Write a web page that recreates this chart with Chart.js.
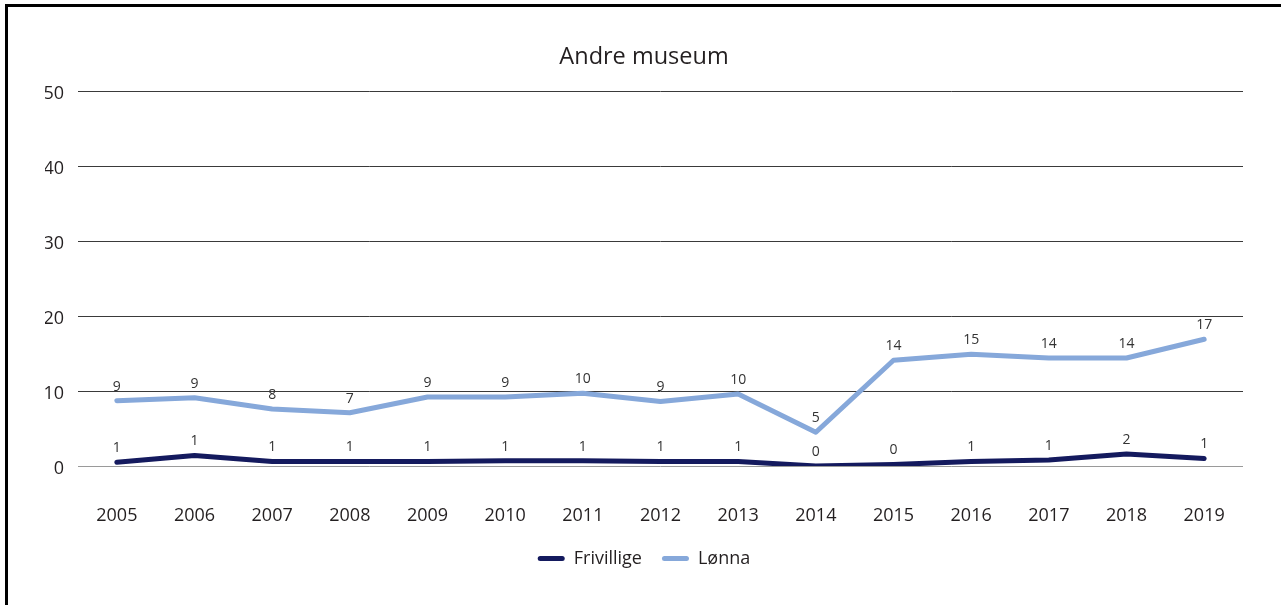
<!DOCTYPE html>
<html>
<head>
<meta charset="utf-8">
<script src="https://cdn.jsdelivr.net/npm/chart.js@4/dist/chart.umd.min.js"></script>
<style>
  html, body { margin: 0; padding: 0; background: #fff; }
  #wrap { position: relative; width: 1281px; height: 605px; overflow: hidden; }
  #frame { position: absolute; left: 5px; top: 4px; right: -10px; bottom: -10px;
           border-top: 3px solid #000; border-left: 3px solid #000; pointer-events: none; }
  canvas { position: absolute; left: 0; top: 0; }
</style>
</head>
<body>
<div id="wrap">
  <canvas id="c" width="1281" height="605"></canvas>
  <div id="frame"></div>
</div>
<script>
// Years on the category axis
const years = ['2005','2006','2007','2008','2009','2010','2011','2012','2013','2014','2015','2016','2017','2018','2019'];

// Volunteer staff (Frivillige)
const frivillige = [0.5, 1.4, 0.6, 0.6, 0.6, 0.7, 0.7, 0.6, 0.6, 0.0, 0.2, 0.6, 0.8, 1.6, 1.0];

// Paid staff (Lønna)
const lonna = [8.7, 9.1, 7.6, 7.1, 9.2, 9.2, 9.7, 8.6, 9.6, 4.5, 14.1, 14.9, 14.4, 14.4, 16.9];

// Value axis ticks
const yTicks = [0, 10, 20, 30, 40, 50];

const FONT = "'Open Sans', 'Noto Sans', sans-serif";
const TEXT = '#231f20';

// Writes each point's rounded value just above it
const pointLabels = {
  id: 'pointLabels',
  afterDatasetsDraw(chart) {
    const ctx = chart.ctx;
    ctx.save();
    ctx.font = '14px ' + FONT;
    ctx.fillStyle = '#333';
    ctx.textAlign = 'center';
    ctx.textBaseline = 'middle';
    chart.data.datasets.forEach((ds, i) => {
      const meta = chart.getDatasetMeta(i);
      meta.data.forEach((pt, j) => {
        ctx.fillText(String(Math.round(ds.data[j])), pt.x, pt.y - 14);
      });
    });
    ctx.restore();
  }
};

new Chart(document.getElementById('c'), {
  type: 'line',
  data: {
    labels: years,
    datasets: [
      { label: 'Frivillige', data: frivillige, borderColor: '#141a5e', backgroundColor: '#141a5e' },
      { label: 'Lønna', data: lonna, borderColor: '#86a8da', backgroundColor: '#86a8da' }
    ]
  },
  options: {
    responsive: false,
    animation: false,
    layout: { padding: { left: 45, right: 38, top: 0, bottom: 27.5 } },
    elements: {
      line: { borderWidth: 5, tension: 0, borderCapStyle: 'round', borderJoinStyle: 'round', fill: false },
      point: { radius: 0, hoverRadius: 0 }
    },
    scales: {
      x: {
        offset: true,
        grid: { display: false, drawTicks: false },
        border: { display: false },
        ticks: { color: TEXT, font: { family: FONT, size: 18 }, padding: 39, maxRotation: 0, autoSkip: false },
        afterFit(scale) { scale.height = 63.5; }
      },
      y: {
        min: 0, max: 50,
        afterBuildTicks(scale) { scale.ticks = yTicks.map(v => ({ value: v })); },
        grid: {
          drawTicks: false,
          lineWidth: 1,
          color: c => (c.tick && c.tick.value === 0) ? '#9a9a9a' : '#3a3a3a'
        },
        border: { display: false },
        ticks: { color: TEXT, font: { family: FONT, size: 18 }, padding: 14, labelOffset: 3 },
        afterFit(scale) { scale.width = 33; }
      }
    },
    plugins: {
      title: {
        display: true,
        text: 'Andre museum',
        color: TEXT,
        font: { family: FONT, size: 23.5, weight: 'normal' },
        padding: { top: 43, bottom: 19.8 }
      },
      legend: {
        position: 'bottom',
        labels: {
          color: TEXT,
          font: { family: FONT, size: 18 },
          boxWidth: 27,
          boxHeight: 5,
          padding: 20,
          useBorderRadius: true,
          borderRadius: 2.5,
          generateLabels(chart) {
            return chart.data.datasets.map((ds, i) => ({
              text: ds.label,
              fillStyle: ds.borderColor,
              strokeStyle: ds.borderColor,
              lineWidth: 0,
              borderRadius: 2.5,
              fontColor: TEXT,
              hidden: false,
              datasetIndex: i
            }));
          }
        }
      },
      tooltip: { enabled: false }
    }
  },
  plugins: [pointLabels]
});
</script>
</body>
</html>
